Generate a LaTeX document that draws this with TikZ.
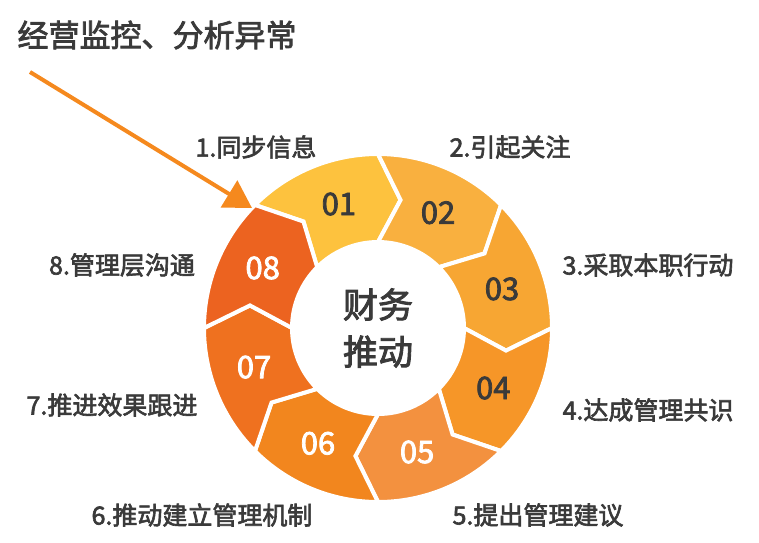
\documentclass[tikz,border=0pt]{standalone}
\usepackage{fontspec}
\setmainfont{Noto Sans CJK SC}[FakeBold=2.5]
\usetikzlibrary{calc,arrows.meta}
\definecolor{c1}{HTML}{FDC23E}
\definecolor{c2}{HTML}{F9B03F}
\definecolor{c3}{HTML}{F7A633}
\definecolor{c4}{HTML}{F69628}
\definecolor{c5}{HTML}{F3913F}
\definecolor{c6}{HTML}{F2861E}
\definecolor{c7}{HTML}{EF711F}
\definecolor{c8}{HTML}{EC6320}
\definecolor{txt}{HTML}{3A3A3A}
\definecolor{arr}{HTML}{F5891E}
\tikzset{
  seg/.style={draw=white, line width=4pt, line join=miter},
  num/.style={font=\fontsize{31}{32}\selectfont, inner sep=0pt},
  lab/.style={font=\fontsize{25}{28}\selectfont, text=txt, inner sep=0pt},
}
\begin{document}
\begin{tikzpicture}[x=1pt,y=-1pt]
\useasboundingbox (0,0) rectangle (759,542);
\coordinate (C) at (378,328);
\foreach \k/\col/\tc in {1/c1/txt,2/c2/txt,3/c3/txt,4/c4/txt,5/c5/white,6/c6/white,7/c7/white,8/c8/white}{
  \pgfmathsetmacro\T{180-45*\k}
  \pgfmathsetmacro\L{\T-45}
  \pgfmathsetmacro\M{-(107.5-45*(\k-1))}
  \filldraw[seg, fill=\col] ($(C)+(-\T:174)$) arc[start angle=-\T, end angle=-\L, radius=174]
     -- ($(C)+(-\L+10:130)$) -- ($(C)+(-\L:86)$)
     arc[start angle=-\L, end angle=-\T, radius=86]
     -- ($(C)+(-\T+10:130)$) -- cycle;
  \node[num, text=\tc] (n\k) at ($(C)+(\M:130)$) {0\k};
}
\node[font=\fontsize{35}{47}\selectfont, text=txt, align=center] (ctr) at (C) {财务\\推动};
\node[lab] (l1) at (256,147) {1.同步信息};
\node[lab] (l2) at (510,147) {2.引起关注};
\node[lab] (l3) at (648,265) {3.采取本职行动};
\node[lab] (l4) at (648,410) {4.达成管理共识};
\node[lab] (l5) at (538,515) {5.提出管理建议};
\node[lab] (l6) at (202,515) {6.推动建立管理机制};
\node[lab] (l7) at (112,405) {7.推进效果跟进};
\node[lab] (l8) at (122,265) {8.管理层沟通};
\node[lab, font=\fontsize{31}{34}\selectfont] (title) at (157,35) {经营监控、分析异常};
\coordinate (a0) at (30,72);
\coordinate (a1) at (252,208);
\draw[arr, line width=4pt, -{Triangle[length=27pt,width=31pt]}] (a0) -- (a1);
\end{tikzpicture}
\end{document}
